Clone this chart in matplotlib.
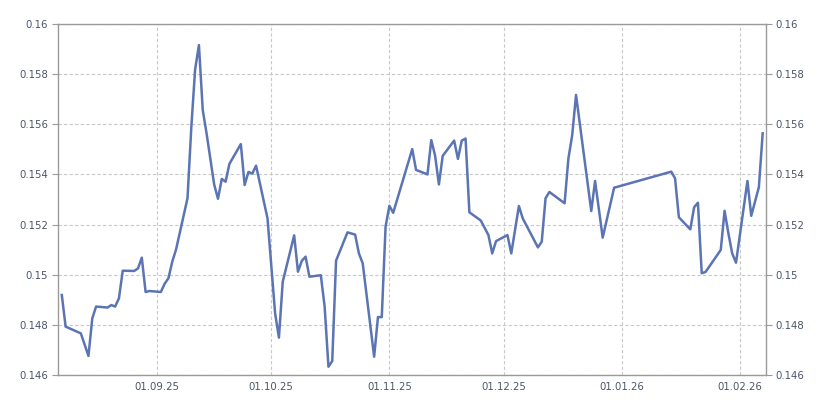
import matplotlib
matplotlib.use("Agg")
import matplotlib.pyplot as plt
import matplotlib.dates as mdates
import numpy as np

dates = [
    "2025-08-07", "2025-08-08", "2025-08-12", "2025-08-14", "2025-08-15", "2025-08-16",
    "2025-08-19", "2025-08-20", "2025-08-21", "2025-08-22", "2025-08-23",
    "2025-08-26", "2025-08-27", "2025-08-28", "2025-08-29", "2025-08-30",
    "2025-09-02", "2025-09-03", "2025-09-04", "2025-09-05", "2025-09-06",
    "2025-09-09", "2025-09-10", "2025-09-11", "2025-09-12", "2025-09-13", "2025-09-14",
    "2025-09-16", "2025-09-17", "2025-09-18", "2025-09-19", "2025-09-20",
    "2025-09-23", "2025-09-24", "2025-09-25", "2025-09-26", "2025-09-27",
    "2025-09-30", "2025-10-02", "2025-10-03", "2025-10-04",
    "2025-10-07", "2025-10-08", "2025-10-09", "2025-10-10", "2025-10-11",
    "2025-10-14", "2025-10-15", "2025-10-16", "2025-10-17", "2025-10-18",
    "2025-10-21", "2025-10-23", "2025-10-24", "2025-10-25",
    "2025-10-28", "2025-10-29", "2025-10-30", "2025-10-31", "2025-11-01", "2025-11-02",
    "2025-11-07", "2025-11-08", "2025-11-11", "2025-11-12", "2025-11-13", "2025-11-14", "2025-11-15",
    "2025-11-18", "2025-11-19", "2025-11-20", "2025-11-21", "2025-11-22",
    "2025-11-25", "2025-11-27", "2025-11-28", "2025-11-29",
    "2025-12-02", "2025-12-03", "2025-12-05", "2025-12-06",
    "2025-12-10", "2025-12-11", "2025-12-12", "2025-12-13",
    "2025-12-17", "2025-12-18", "2025-12-19", "2025-12-20",
    "2025-12-24", "2025-12-25", "2025-12-27", "2025-12-30",
    "2026-01-14", "2026-01-15", "2026-01-16", "2026-01-19", "2026-01-20", "2026-01-21",
    "2026-01-22", "2026-01-23", "2026-01-27", "2026-01-28", "2026-01-29", "2026-01-30", "2026-01-31",
    "2026-02-03", "2026-02-04", "2026-02-06", "2026-02-07",
]

rates = [
    0.14919, 0.14793, 0.14766, 0.14676, 0.14826, 0.14873,
    0.14869, 0.14879, 0.14873, 0.14906, 0.15016,
    0.15015, 0.15025, 0.15068, 0.14931, 0.14935,
    0.14931, 0.14964, 0.14986, 0.15052, 0.15101,
    0.15305, 0.15588, 0.15819, 0.15916, 0.15657, 0.15564,
    0.15360, 0.15303, 0.15382, 0.15371, 0.15442,
    0.15521, 0.15358, 0.15410, 0.15403, 0.15435,
    0.15225, 0.14846, 0.14749, 0.14972,
    0.15157, 0.15012, 0.15055, 0.15072, 0.14992,
    0.14998, 0.14873, 0.14633, 0.14656, 0.15056,
    0.15169, 0.15160, 0.15085, 0.15045,
    0.14673, 0.14831, 0.14831, 0.15192, 0.15275, 0.15247,
    0.15501, 0.15418, 0.15400, 0.15537, 0.15475, 0.15360, 0.15474,
    0.15535, 0.15462, 0.15535, 0.15543, 0.15249,
    0.15216, 0.15158, 0.15085, 0.15134,
    0.15158, 0.15085, 0.15274, 0.15225,
    0.15109, 0.15132, 0.15305, 0.15330,
    0.15285, 0.15464, 0.15557, 0.15717,
    0.15254, 0.15374, 0.15148, 0.15347,
    0.15411, 0.15384, 0.15229, 0.15181, 0.15269, 0.15287,
    0.15006, 0.15011, 0.15099, 0.15255, 0.15165, 0.15085, 0.15048,
    0.15374, 0.15235, 0.15349, 0.15564,
]

y_ticks = [0.146, 0.148, 0.15, 0.152, 0.154, 0.156, 0.158, 0.16]
x_ticks = ["2025-09-01", "2025-10-01", "2025-11-01", "2025-12-01", "2026-01-01", "2026-02-01"]

x = np.array(dates, dtype="datetime64[D]")
label_color = "#4a5568"
frame_color = "#9a9a9a"

fig = plt.figure(figsize=(8.25, 4), dpi=100)
ax = fig.add_axes([0.0703, 0.0625, 0.858, 0.8775])

ax.plot(x, rates, color="#5b74b3", linewidth=1.8, solid_joinstyle="round")

ax.set_xlim(np.datetime64("2025-08-06"), np.datetime64("2026-02-07T20"))
ax.set_ylim(0.146, 0.16)
ax.set_yticks(y_ticks)
ax.set_yticklabels([f"{v:g}" for v in y_ticks])
ax.set_xticks(np.array(x_ticks, dtype="datetime64[D]"))
ax.xaxis.set_major_formatter(mdates.DateFormatter("%d.%m.%y"))

ax.grid(True, color="#c8c8c8", linestyle=(0, (3, 2)), linewidth=0.8)
for side in ["top", "left", "right", "bottom"]:
    ax.spines[side].set_color(frame_color)
    ax.spines[side].set_linewidth(1.0)

ax.tick_params(axis="y", which="both", left=True, right=True, labelleft=True,
               labelright=True, length=4, color=frame_color,
               labelsize=7.3, labelcolor=label_color, pad=3)
ax.tick_params(axis="x", length=0, labelsize=7.3, labelcolor=label_color, pad=5)

fig.savefig("out.png", dpi=100)
plt.close(fig)
